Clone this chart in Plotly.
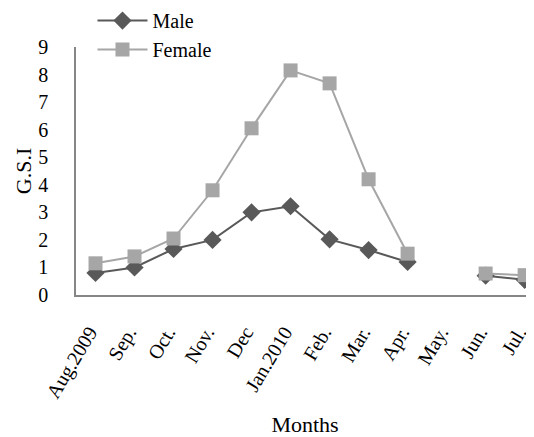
import plotly.graph_objects as go

months = ["Aug.2009", "Sep.", "Oct.", "Nov.", "Dec", "Jan.2010", "Feb.", "Mar.", "Apr.", "May.", "Jun.", "Jul."]
male = [0.80, 1.00, 1.67, 2.00, 3.00, 3.22, 2.02, 1.63, 1.20, None, 0.70, 0.55]
female = [1.15, 1.40, 2.05, 3.80, 6.05, 8.15, 7.68, 4.20, 1.50, None, 0.78, 0.72]

font_family = "Liberation Serif, Times New Roman, serif"

fig = go.Figure()
fig.add_trace(go.Scatter(
    x=months, y=male, name="Male", mode="lines+markers",
    line=dict(color="#595959", width=2),
    marker=dict(symbol="diamond", size=14, color="#595959"),
    connectgaps=False,
))
fig.add_trace(go.Scatter(
    x=months, y=female, name="Female", mode="lines+markers",
    line=dict(color="#a6a6a6", width=2),
    marker=dict(symbol="square", size=14, color="#a6a6a6"),
    connectgaps=False,
))

fig.update_layout(
    width=534, height=437,
    margin=dict(l=68, r=8, t=39, b=150, autoexpand=False),
    paper_bgcolor="white", plot_bgcolor="white",
    font=dict(family=font_family, size=20, color="black"),
    showlegend=True,
    legend=dict(
        x=0.036, y=1.185, xanchor="left", yanchor="top",
        font=dict(size=20, family=font_family, color="black"),
        bgcolor="rgba(0,0,0,0)",
        traceorder="normal",
        itemwidth=50,
        tracegroupgap=0,
    ),
    xaxis=dict(
        type="category", categoryorder="array", categoryarray=months,
        range=[-0.5, 11.24],
        showline=True, linecolor="#868686", linewidth=1.5,
        showgrid=False, ticks="", tickangle=-59,
        ticklabelstandoff=16, ticklabelshift=-6,
        tickfont=dict(size=20, family=font_family),
        automargin=False,
        title=dict(text="Months", font=dict(size=22, family=font_family), standoff=15),
    ),
    yaxis=dict(
        range=[0, 9], dtick=1,
        showline=True, linecolor="#868686", linewidth=1.5,
        showgrid=False, zeroline=False, ticks="",
        ticklabelstandoff=22,
        automargin=False,
        tickfont=dict(size=20, family=font_family),
        title=dict(text="G.S.I", font=dict(size=22, family=font_family), standoff=1),
    ),
)

fig.write_html("out.html")
